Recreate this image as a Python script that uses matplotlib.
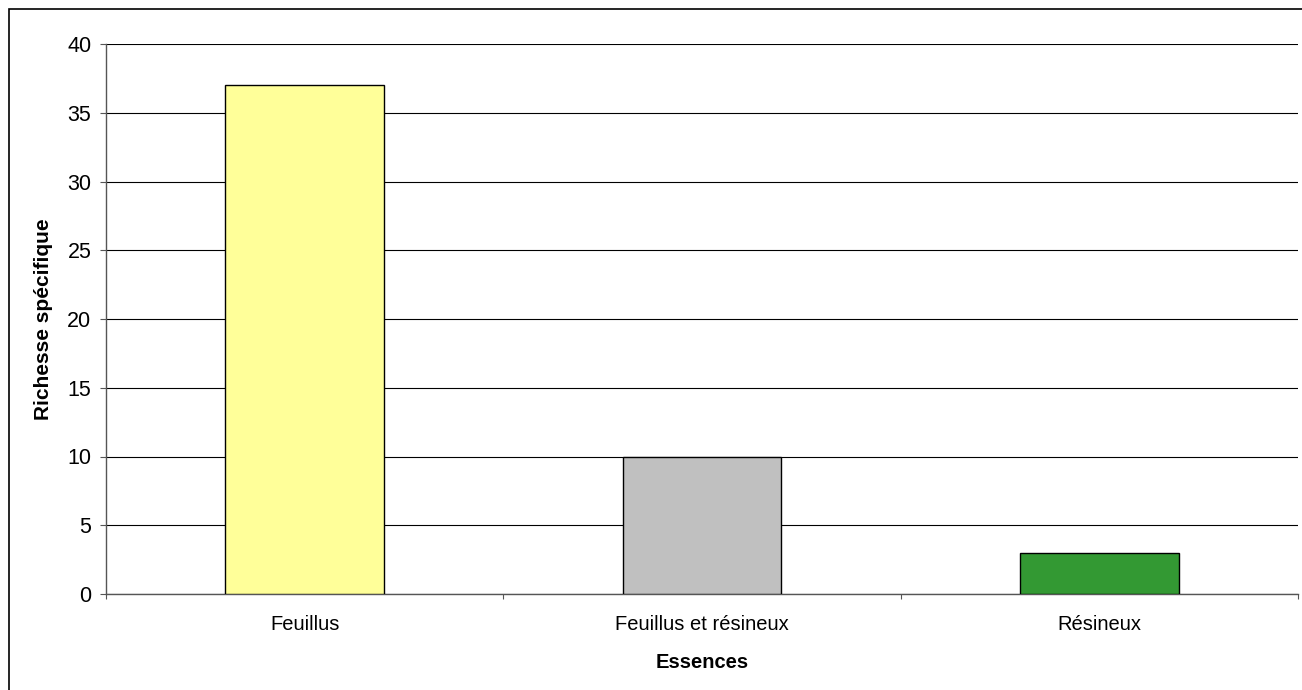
import matplotlib
import matplotlib.pyplot as plt
from matplotlib.patches import Rectangle

matplotlib.use('agg')

essences = ['Feuillus', 'Feuillus et résineux', 'Résineux']
richesse = [37, 10, 3]
couleurs = ['#FFFF99', '#C0C0C0', '#339933']
y_ticks = [0, 5, 10, 15, 20, 25, 30, 35, 40]

plt.rcParams['font.family'] = ['Liberation Sans', 'DejaVu Sans']

W, H = 1302, 690
figure = plt.figure(figsize=(W / 100, H / 100), dpi=100)
axis = figure.add_axes([106 / W, 1 - 594 / H, (1298 - 106) / W, (594 - 44) / H])

positions = list(range(len(essences)))
axis.bar(positions, richesse, width=0.40, color=couleurs,
         edgecolor='black', linewidth=1.0, zorder=3)

axis.set_xlim(-0.5, len(essences) - 0.5)
axis.set_ylim(0, 40)
axis.set_yticks(y_ticks)
axis.yaxis.grid(True, color='black', linewidth=0.8, zorder=0)

# ticks between categories, labels centred under the bars
axis.set_xticks([p - 0.5 for p in positions] + [len(essences) - 0.5])
axis.set_xticklabels([])
axis.set_xticks(positions, minor=True)
axis.set_xticklabels(essences, minor=True)
axis.tick_params(axis='x', which='minor', length=0, pad=15, labelsize=14.5)
axis.tick_params(axis='x', which='major', length=3.6, width=0.8, color='#555555')
axis.tick_params(axis='y', length=4.5, width=0.8, color='#555555', labelsize=15.5, pad=6)

for side in ('top', 'right'):
    axis.spines[side].set_visible(False)
for side in ('left', 'bottom'):
    axis.spines[side].set_color('#555555')
    axis.spines[side].set_linewidth(1.0)

axis.set_xlabel('Essences', fontsize=14.5, fontweight='bold', labelpad=14)
axis.set_ylabel('Richesse spécifique', fontsize=15, fontweight='bold')
axis.yaxis.set_label_coords(-53 / (1298 - 106), 0.5)

# chart frame
figure.patches.append(Rectangle((9 / W, -0.1), 1.2, 1 - 9 / H + 0.1,
                                transform=figure.transFigure, fill=False,
                                edgecolor='black', linewidth=1.2))

plt.savefig('out.png', dpi=100)
plt.close()
